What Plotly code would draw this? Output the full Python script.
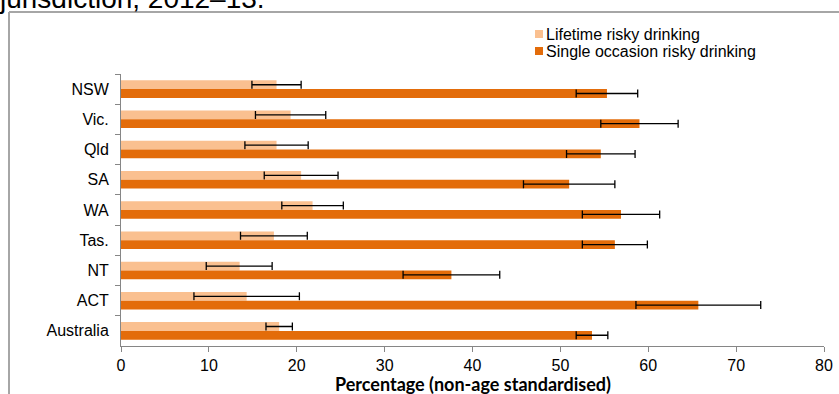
import plotly.graph_objects as go

# Jurisdictions, top to bottom
jurisdictions = ["NSW", "Vic.", "Qld", "SA", "WA", "Tas.", "NT", "ACT", "Australia"]

# Lifetime risky drinking (%) with 95% confidence limits
lifetime = [17.7, 19.3, 17.7, 20.5, 21.8, 17.4, 13.5, 14.3, 18.0]
lifetime_lo = [14.9, 15.3, 14.1, 16.3, 18.3, 13.6, 9.7, 8.3, 16.5]
lifetime_hi = [20.5, 23.3, 21.3, 24.7, 25.3, 21.2, 17.2, 20.3, 19.5]

# Single occasion risky drinking (%) with 95% confidence limits
single = [55.3, 59.0, 54.6, 51.0, 56.9, 56.2, 37.6, 65.7, 53.6]
single_lo = [51.8, 54.6, 50.7, 45.8, 52.5, 52.5, 32.1, 58.6, 51.8]
single_hi = [58.8, 63.4, 58.5, 56.2, 61.3, 59.9, 43.1, 72.8, 55.4]

x_ticks = [0, 10, 20, 30, 40, 50, 60, 70, 80]

LIGHT = "#FAC090"
DARK = "#E36C0A"
AXIS = "#868686"
FONT = "Liberation Sans, Arial, sans-serif"


def err(vals, lo, hi):
    return dict(
        type="data",
        symmetric=False,
        array=[h - v for v, h in zip(vals, hi)],
        arrayminus=[v - l for v, l in zip(vals, lo)],
        color="#000000",
        thickness=1.3,
        width=4,
    )


fig = go.Figure()
fig.add_trace(go.Bar(
    y=jurisdictions, x=lifetime, orientation="h", name="Lifetime risky drinking",
    marker=dict(color=LIGHT, line=dict(width=0)),
    error_x=err(lifetime, lifetime_lo, lifetime_hi), showlegend=False,
))
fig.add_trace(go.Bar(
    y=jurisdictions, x=single, orientation="h", name="Single occasion risky drinking",
    marker=dict(color=DARK, line=dict(width=0)),
    error_x=err(single, single_lo, single_hi), showlegend=False,
))

# pixel -> paper helpers (plot area: x 121..824, y 74..346)
L, R, T, B = 121, 824, 74, 346


def px(x):
    return (x - L) / (R - L)


def py(y):
    return (B - y) / (B - T)


shapes = [
    # chart frame
    dict(type="line", xref="paper", yref="paper", x0=px(9), x1=px(845), y0=py(12), y1=py(12),
         line=dict(color="#a6a6a6", width=2)),
    dict(type="line", xref="paper", yref="paper", x0=px(9), x1=px(9), y0=py(12), y1=py(400),
         line=dict(color="#a6a6a6", width=2)),
]

annotations = [
    dict(text="jurisdiction, 2012–13.", xref="paper", yref="paper", x=px(-2), y=py(15),
         xanchor="left", yanchor="bottom", showarrow=False, borderpad=0,
         font=dict(family=FONT, size=28, color="#000000")),
    # x-axis title
    dict(text="<b>Percentage (non-age standardised)</b>", xref="paper", yref="paper",
         x=0.5, y=py(384), xanchor="center", yanchor="middle", showarrow=False,
         font=dict(family="Lato, sans-serif", size=18, color="#000000")),
]

# legend entries
legend_items = [("Lifetime risky drinking", LIGHT, 34), ("Single occasion risky drinking", DARK, 51)]
for label, colour, yc in legend_items:
    shapes.append(dict(type="rect", xref="paper", yref="paper",
                       x0=px(535), x1=px(543), y0=py(yc - 4), y1=py(yc + 4),
                       fillcolor=colour, line=dict(width=0)))
    annotations.append(dict(text=label, xref="paper", yref="paper", x=px(544), y=py(yc),
                            xanchor="left", yanchor="middle", showarrow=False,
                            font=dict(family=FONT, size=16, color="#000000")))

fig.update_layout(
    width=839, height=394, autosize=False,
    margin=dict(l=L, r=839 - R, t=T, b=394 - B, autoexpand=False),
    paper_bgcolor="white", plot_bgcolor="white",
    barmode="group", bargap=0.42, bargroupgap=0,
    font=dict(family=FONT, size=16, color="#000000"),
    shapes=shapes, annotations=annotations,
    xaxis=dict(
        range=[0, 80], tickvals=x_ticks, ticktext=[str(v) for v in x_ticks],
        showgrid=False, zeroline=False, showline=True, linecolor=AXIS, linewidth=1,
        ticks="outside", ticklen=5, tickcolor=AXIS, automargin=False,
        tickfont=dict(family=FONT, size=16, color="#000000"),
    ),
    yaxis=dict(
        categoryorder="array", categoryarray=jurisdictions, autorange="reversed",
        showgrid=False, zeroline=False, showline=True, linecolor=AXIS, linewidth=1,
        ticks="outside", ticklen=5, tickcolor=AXIS, tickson="boundaries",
        ticklabelstandoff=8, automargin=False,
        tickfont=dict(family=FONT, size=16, color="#000000"),
    ),
)

fig.write_html("out.html")
